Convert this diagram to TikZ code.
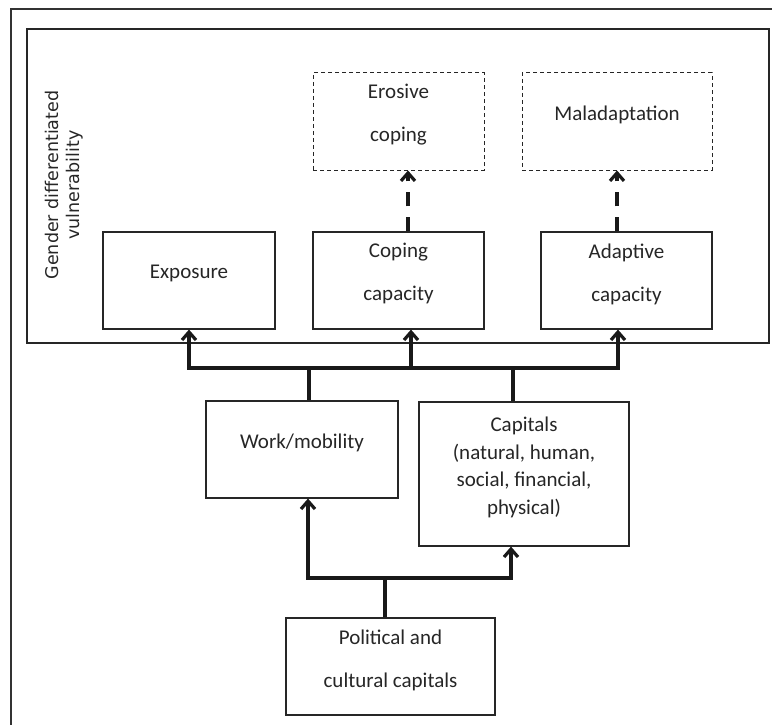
\documentclass[tikz,border=0pt]{standalone}
\usepackage{fontspec}
\setmainfont{Carlito}
\newfontfamily\sidefont{DejaVu Sans}
\usetikzlibrary{arrows.meta, positioning}

\tikzset{
  box/.style={draw=black!85, line width=1.2pt, minimum height=97pt, inner sep=0pt,
    align=center, text depth=16.5pt, text=black!85, font=\fontsize{21}{43}\selectfont},
  dashbox/.style={box, line width=1pt, dash pattern=on 4pt off 3pt},
  conn/.style={draw=black!90, line width=3.2pt},
  dashconn/.style={conn, dash pattern=on 14pt off 11pt},
  >={Straight Barb[length=8pt, width=14pt]},
}

\begin{document}
\begin{tikzpicture}[x=1pt, y=-1pt]
  \useasboundingbox (0,0) rectangle (772,725);
  \draw[black!80, line width=1.2pt] (11,725) -- (11,9) -- (772,9);

  \node[box, minimum width=742pt, minimum height=314pt] (vuln) at (398,186) {};
  \node[rotate=90, align=center, text=black!85, font=\sidefont\fontsize{17.5}{20.5}\selectfont]
    (vlabel) at (64,185) {Gender differentiated\\vulnerability};

  \node[box, minimum width=172pt] (expo) at (189,280.5) {Exposure};
  \node[box, minimum width=171pt] (coping) at (398.5,280.5) {Coping\\capacity};
  \node[box, minimum width=171pt] (adapt) at (626.5,280.5) {Adaptive\\capacity};
  \node[dashbox, minimum width=171pt] (erosive) at (398.5,121.5) {Erosive\\coping};
  \node[dashbox, minimum width=190pt] (malad) at (617,121.5) {Maladaptation};
  \node[box, minimum width=192pt] (work) at (302,449.5) {Work/mobility};
  \node[box, minimum width=210pt, minimum height=144pt, font=\fontsize{21}{27.5}\selectfont]
    (capitals) at (524,474) {Capitals\\(natural, human,\\social, financial,\\physical)};
  \node[box, minimum width=209pt] (polit) at (390.5,666.5) {Political and\\cultural capitals};

  \coordinate (bus) at (0,368);
  \coordinate (split) at (385,578);
  \coordinate (copingin) at ([xshift=12.5pt]coping.south);
  \coordinate (adaptin) at ([xshift=-8.5pt]adapt.south);
  \coordinate (workout) at ([xshift=7pt]work.north);
  \coordinate (capout) at ([xshift=-11pt]capitals.north);
  \coordinate (workin) at ([xshift=6pt]work.south);
  \coordinate (capin) at ([xshift=-13pt]capitals.south);
  \coordinate (politout) at ([xshift=-5.5pt]polit.north);
  \coordinate (copingout) at ([xshift=9.5pt]coping.north);

  \draw[conn, <->] (expo.south) |- (adaptin |- bus) -- (adaptin);
  \draw[conn, ->] (copingin |- bus) -- (copingin);
  \draw[conn] (workout) -- (workout |- bus);
  \draw[conn] (capout) -- (capout |- bus);

  \draw[conn, <->] (workin) |- (capin |- split) -- (capin);
  \draw[conn] (politout) -- (split);

  \draw[dashconn, ->] (copingout) -- (copingout |- erosive.south);
  \draw[dashconn, ->] (adapt.north -| malad.south) -- (malad.south);
\end{tikzpicture}
\end{document}
